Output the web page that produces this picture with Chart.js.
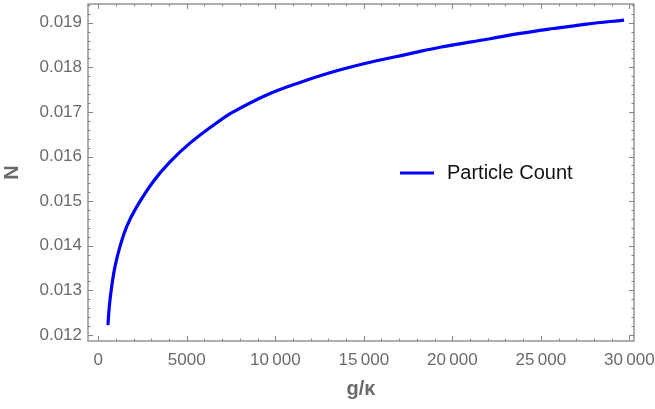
<!DOCTYPE html>
<html>
<head>
<meta charset="utf-8">
<script src="https://cdn.jsdelivr.net/npm/chart.js@4.4.1/dist/chart.umd.min.js"></script>
<style>
  html, body { margin: 0; padding: 0; background: #fff; }
  #wrap { width: 655px; height: 409px; }
</style>
</head>
<body>
<div id="wrap"><canvas id="plot"></canvas></div>
<script>
// ===============================
// DATA
// ===============================
const seriesLabel = "Particle Count";
const gOverKappa = [548, 622, 757, 944, 1226, 1605, 2170, 3108, 4051, 5181, 6780,
  7627, 9515, 11396, 13277, 15538, 17425, 19306, 22131, 23826, 25708, 27595, 29702];
const particleN = [0.01222, 0.01263, 0.01308, 0.01353, 0.01398, 0.01443, 0.01487,
  0.01544, 0.01588, 0.01630, 0.01678, 0.01700, 0.01738, 0.01766, 0.01790, 0.01813,
  0.01829, 0.01845, 0.01864, 0.01876, 0.01887, 0.01897, 0.01906];

const xTicks = [0, 5000, 10000, 15000, 20000, 25000, 30000];
const xTickLabels = ["0", "5000", "10\u2009000", "15\u2009000", "20\u2009000", "25\u2009000", "30\u2009000"];
const yTicks = [0.012, 0.013, 0.014, 0.015, 0.016, 0.017, 0.018, 0.019];
const yTickLabels = ["0.012", "0.013", "0.014", "0.015", "0.016", "0.017", "0.018", "0.019"];

// ===============================
// STYLE
// ===============================
const FONT = "'Liberation Sans', Arial, sans-serif";
const GREY = "#6a6a6a";
const FRAME = "#858585";

// ===============================
// FRAME + INWARD TICKS (all four sides)
// ===============================
const framePlugin = {
  id: "frame",
  afterDatasetsDraw(chart) {
    const { ctx, chartArea: a, scales } = chart;
    const sx = scales.x, sy = scales.y;
    ctx.save();
    ctx.strokeStyle = FRAME;
    ctx.lineWidth = 1;

    const tick = (x1, y1, x2, y2) => {
      ctx.beginPath();
      ctx.moveTo(x1, y1);
      ctx.lineTo(x2, y2);
      ctx.stroke();
    };

    // x ticks: majors every 5000, minors every 1000
    for (let v = 0; v <= sx.max; v += 1000) {
      const px = Math.round(sx.getPixelForValue(v)) + 0.5;
      if (px < a.left || px > a.right) continue;
      const len = v % 5000 === 0 ? 5 : 2.5;
      tick(px, a.bottom, px, a.bottom - len);
      tick(px, a.top, px, a.top + len);
    }
    // y ticks: majors every 0.001, minors every 0.0002
    for (let i = 59; i <= 98; i++) {
      const v = i * 0.0002;
      const py = Math.round(sy.getPixelForValue(v)) + 0.5;
      if (py < a.top || py > a.bottom) continue;
      const len = i % 5 === 0 ? 5 : 2.5;
      tick(a.left, py, a.left + len, py);
      tick(a.right, py, a.right - len, py);
    }

    ctx.lineWidth = 1.3;
    ctx.strokeRect(a.left, a.top, a.right - a.left, a.bottom - a.top);
    ctx.restore();
  }
};

// ===============================
// LEGEND INSIDE THE PLOT
// ===============================
const legendPlugin = {
  id: "insideLegend",
  afterDraw(chart) {
    const { ctx } = chart;
    const ds = chart.data.datasets[0];
    const x0 = 400, y0 = 173;
    ctx.save();
    ctx.strokeStyle = ds.borderColor;
    ctx.lineWidth = 3;
    ctx.beginPath();
    ctx.moveTo(x0, y0);
    ctx.lineTo(x0 + 34, y0);
    ctx.stroke();
    ctx.fillStyle = "#111";
    ctx.font = "20px " + FONT;
    ctx.textBaseline = "middle";
    ctx.fillText(ds.label, x0 + 47, y0);
    ctx.restore();
  }
};

// drop the label-overflow padding so the frame lands where the reference has it
const noPad = s => {
  s.paddingLeft = 0; s.paddingRight = 0;
  s.paddingTop = 0; s.paddingBottom = 0;
};

// ===============================
// CHART
// ===============================
new Chart(document.getElementById("plot"), {
  type: "line",
  data: {
    datasets: [{
      label: seriesLabel,
      data: gOverKappa.map((x, i) => ({ x, y: particleN[i] })),
      borderColor: "#0000ff",
      borderWidth: 3.2,
      pointRadius: 0,
      tension: 0.4,
      fill: false
    }]
  },
  options: {
    responsive: true,
    maintainAspectRatio: false,
    animation: false,
    layout: { padding: { left: 0, right: 21, top: 4, bottom: 0 } },
    plugins: {
      legend: { display: false },
      tooltip: { enabled: false }
    },
    scales: {
      x: {
        type: "linear",
        min: -580,
        max: 30265,
        afterBuildTicks: s => { s.ticks = xTicks.map(v => ({ value: v })); },
        afterFit: s => { s.height = 68; noPad(s); },
        grid: { display: false, drawTicks: false },
        border: { display: false },
        ticks: {
          color: GREY,
          font: { family: FONT, size: 17 },
          padding: 9,
          maxRotation: 0,
          autoSkip: false,
          callback: v => xTickLabels[xTicks.indexOf(v)]
        },
        title: {
          display: true,
          text: "g/\u03ba",
          color: GREY,
          font: { family: FONT, size: 20, weight: "bold" },
          padding: { top: 0, bottom: 8 }
        }
      },
      y: {
        type: "linear",
        min: 0.011863,
        max: 0.01942,
        afterBuildTicks: s => { s.ticks = yTicks.map(v => ({ value: v })); },
        afterFit: s => { s.width = 88; noPad(s); },
        grid: { display: false, drawTicks: false },
        border: { display: false },
        ticks: {
          color: GREY,
          font: { family: FONT, size: 17 },
          padding: 6,
          autoSkip: false,
          callback: (v, i) => yTickLabels[i]
        },
        title: {
          display: true,
          text: "N",
          color: GREY,
          font: { family: FONT, size: 20, weight: "bold" },
          padding: { top: 0, bottom: 3 }
        }
      }
    }
  },
  plugins: [framePlugin, legendPlugin]
});
</script>
</body>
</html>
